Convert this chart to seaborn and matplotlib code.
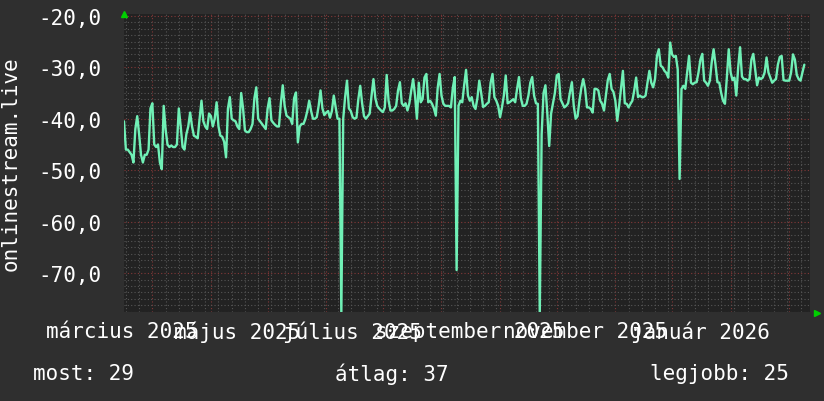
import numpy as np
import pandas as pd
import matplotlib
matplotlib.use("Agg")
import matplotlib.pyplot as plt
import matplotlib.dates as mdates
import matplotlib.transforms as mtransforms
import seaborn as sns

# daily values (negative rank), first day 2025-03-02
rank_mar_apr = [
    -40.5, -46, -46, -46.5, -47, -48.5, -42, -39.5, -43, -47, -48.5, -47, -47, -46,
    -38, -37, -45, -45.5, -45, -48.5, -49.8, -37.5, -42, -45, -45.5, -45.2, -45.5, -45.5,
    -45, -38, -41.5, -45.5, -46, -43, -41.5, -38.8, -41.5, -43.3, -43.5, -43.8, -40, -36.5,
    -40.5, -41.5, -42, -39, -39.5, -41.5, -40, -36.8, -41.5, -43.3, -43.5, -44.5, -47.5, -38,
    -35.8, -40, -40.3, -40.5, -41.5,
]
rank_may_jun = [
    -42, -35, -38, -42.3, -42.6, -42.6, -42, -41, -36, -33.9, -40, -40.5, -41, -41.5,
    -42, -38, -36, -40.3, -40.8, -41.2, -41.5, -41.5, -37, -33.5, -37.5, -39.4, -39.7, -40,
    -41, -36, -34.9, -44.6, -41.5, -41, -41, -40, -38.5, -36.5, -38.5, -40, -40, -39.7,
    -37.5, -34.5, -38, -39.3, -38.8, -38.5, -39.8, -38.5, -35.5, -37.8, -40, -40, -78, -40,
    -35.8, -32.6, -38, -38.5, -39.7,
]
rank_jul_aug = [
    -40, -39.8, -36.2, -33.6, -37, -39.5, -40, -39.5, -39, -35.5, -32.3, -36, -37.5, -38,
    -38.4, -38.7, -37.8, -31.5, -36.5, -38.4, -38.4, -38.1, -37.5, -34.5, -32.9, -37, -37.5, -37,
    -38.4, -37, -34.5, -32.3, -35.5, -40, -33, -36.8, -36.2, -32, -31.3, -36.8, -36.5, -37.1,
    -38, -39.4, -34, -31.3, -35.5, -37.1, -37.5, -37.5, -37.5, -37.8, -34, -31.9, -69.4, -37.5,
    -36.5, -36.8, -33.5, -30.5, -35.5,
]
rank_sep_oct = [
    -36.5, -35.8, -37.5, -38.1, -36, -32.6, -35, -37.7, -37.5, -37.1, -36.8, -33, -31.3, -35.8,
    -36.5, -37.5, -39.7, -37.8, -35.5, -31.6, -37, -36.8, -36.5, -36.2, -36.8, -34.2, -31.9, -36,
    -37.5, -37.5, -37.1, -35.5, -33, -31.9, -35.5, -37, -37.1, -78, -43, -35, -33.5, -39,
    -45.3, -39, -37, -35, -31.6, -31.3, -36.2, -37, -37.8, -37.5, -37, -34.8, -32.9, -37.5,
    -40, -39.5, -36.5, -34, -32.3,
]
rank_nov_dec = [
    -34.2, -37.8, -37.8, -38.1, -38.8, -34.2, -34.2, -34.5, -36.5, -37.1, -38.4, -35.5, -32.5, -31.3,
    -34.2, -34.8, -36.5, -40.4, -37.5, -34, -30.7, -37, -37.1, -37.8, -37.1, -36.5, -34.5, -32,
    -35.8, -35.5, -35.8, -35.8, -35.5, -33, -30.7, -33, -33.9, -32.3, -27.8, -26.5, -29.7, -30,
    -30.7, -31.1, -32, -25.2, -27.5, -28, -27.8, -30.4, -51.7, -34.2, -33.6, -34.2, -31, -27.8,
    -33, -33.3, -33, -32.9, -31,
]
rank_jan_feb = [
    -28.5, -27.4, -32.6, -33, -33.6, -32.6, -29, -26.5, -29.5, -32.9, -33, -35, -36.5, -37.1,
    -32, -26.5, -31, -32.5, -32, -35.5, -30, -26.1, -31.8, -32.3, -32.3, -32.6, -32.3, -28.5,
    -27.4, -30.5, -33.5, -32, -32.3, -32, -31, -28.1, -31, -32, -33, -32.6, -32.3, -29.5,
    -28, -27.8, -32.5, -32.6, -32.6, -32.6, -31, -27.5, -28.5, -31.5, -32.3, -32.6, -31, -29.5,
]

month_labels = ["március 2025", "május 2025", "július 2025",
                "szeptember 2025", "november 2025", "január 2026"]
month_dates = ["2025-03-01", "2025-05-01", "2025-07-01",
               "2025-09-01", "2025-11-01", "2026-01-01"]
y_ticks = [-70, -60, -50, -40, -30, -20]
summary = ["most: 29", "átlag: 37", "legjobb: 25"]

rank = rank_mar_apr + rank_may_jun + rank_jul_aug + rank_sep_oct + rank_nov_dec + rank_jan_feb
start = pd.Timestamp("2025-03-02")
df = pd.DataFrame({"day": start + pd.to_timedelta(np.arange(len(rank)), unit="D"),
                   "rank": rank})

sns.set_style("dark")
plt.rcParams["font.family"] = ["DejaVu Sans Mono", "DejaVu Sans"]

fig = plt.figure(figsize=(8.24, 4.02), dpi=100, facecolor="#2f2f2f")
ax = fig.add_axes([124 / 824, 89 / 402, 686 / 824, 298 / 402])
ax.set_facecolor("#222222")

sns.lineplot(data=df, x="day", y="rank", ax=ax, color="#70f0b6", linewidth=1.7)

ax.set_xlim(start, start + pd.Timedelta(days=363))
ax.set_ylim(-77.55, -19.65)

# grid like rrdtool
ax.xaxis.set_major_locator(mdates.MonthLocator(bymonthday=17))
ax.xaxis.set_minor_locator(mdates.WeekdayLocator(byweekday=mdates.MO))
ax.set_yticks(y_ticks)
ax.set_yticks(np.arange(-20, -78, -1.25), minor=True)
ax.grid(which="minor", color="#565656", linestyle=(0, (1, 2)), linewidth=0.8)
ax.grid(which="major", color="#843838", linestyle=(0, (1, 2)), linewidth=0.8)
ax.set_axisbelow(True)

ax.set_xticklabels([])
ax.set_yticklabels([f"{v:.1f}".replace(".", ",") for v in y_ticks])
ax.tick_params(axis="both", which="both", length=0)
ax.tick_params(axis="y", colors="white", labelsize=15, pad=16)
for s in ax.spines.values():
    s.set_visible(False)

ax.set_xlabel("")
ax.set_ylabel("onlinestream.live", color="white", fontsize=15, labelpad=13)

trans = mtransforms.blended_transform_factory(ax.transData, ax.transAxes)
for lab, d in zip(month_labels, month_dates):
    ax.text(pd.Timestamp(d), -0.064, lab, transform=trans, ha="center", va="center",
            color="white", fontsize=15, clip_on=False)

# axis arrows
ax.plot([0], [1.0], marker="^", color="#00d000", markersize=5, transform=ax.transAxes, clip_on=False)
ax.plot([1.01], [-0.005], marker=">", color="#00d000", markersize=5, transform=ax.transAxes, clip_on=False)

fig.text(33 / 824, 1 - 374 / 402, summary[0], color="white", fontsize=15, va="center", ha="left")
fig.text(335 / 824, 1 - 374 / 402, summary[1], color="white", fontsize=15, va="center", ha="left")
fig.text(650 / 824, 1 - 374 / 402, summary[2], color="white", fontsize=15, va="center", ha="left")

fig.savefig("out.png", dpi=100, facecolor=fig.get_facecolor())
